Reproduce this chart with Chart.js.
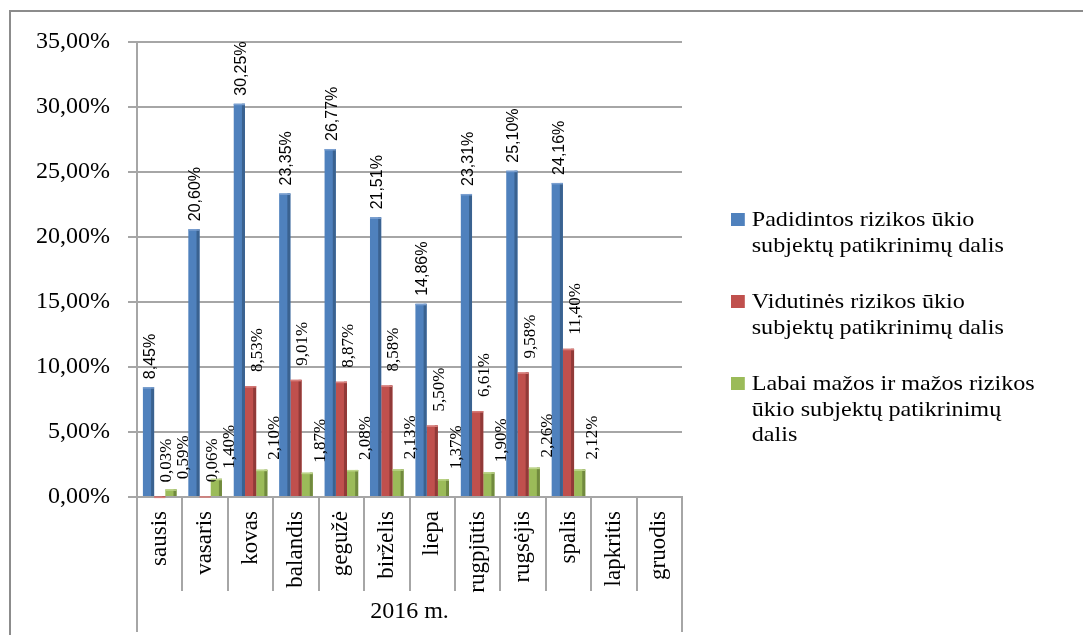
<!DOCTYPE html>
<html>
<head>
<meta charset="utf-8">
<script src="https://cdn.jsdelivr.net/npm/chart.js@4/dist/chart.umd.min.js"></script>
<style>
  body { margin: 0; background: #fff; }
  #wrap { position: relative; width: 1083px; height: 635px; overflow: hidden; }
  #frame { position: absolute; left: 9px; top: 10px; width: 1100px; height: 700px;
           border-top: 2px solid #8c8c8c; border-left: 2px solid #8c8c8c; }
  #myChart { position: absolute; left: 0; top: 0; }
  #legend { position: absolute; left: 731px; top: 207px; font-family: "Liberation Serif", "Times New Roman", serif;
            font-size: 21px; line-height: 25.5px; color: #000; white-space: nowrap;
            transform: scaleX(1.15); transform-origin: 0 0; }
  .item { position: relative; padding-left: 18px; margin-bottom: 31px; }
  .box { position: absolute; left: 0; top: 6px; width: 12px; height: 13px; }
</style>
</head>
<body>
<div id="wrap">
  <div id="frame"></div>
  <canvas id="myChart" width="1083" height="635"></canvas>
  <div id="legend"></div>
</div>
<script>
// months of 2016
const months = ['sausis', 'vasaris', 'kovas', 'balandis', 'gegužė', 'birželis',
    'liepa', 'rugpjūtis', 'rugsėjis', 'spalis', 'lapkritis', 'gruodis'];
const groupLabel = '2016 m.';

// series values in percent (no data for lapkritis, gruodis)
const highRisk = [8.45, 20.60, 30.25, 23.35, 26.77, 21.51, 14.86, 23.31, 25.10, 24.16, null, null];
const mediumRisk = [0.03, 0.06, 8.53, 9.01, 8.87, 8.58, 5.50, 6.61, 9.58, 11.40, null, null];
const lowRisk = [0.59, 1.40, 2.10, 1.87, 2.08, 2.13, 1.37, 1.90, 2.26, 2.12, null, null];

// legend text, split as in the original
const highRiskName = ['Padidintos rizikos ūkio', 'subjektų patikrinimų dalis'];
const mediumRiskName = ['Vidutinės rizikos ūkio', 'subjektų patikrinimų dalis'];
const lowRiskName = ['Labai mažos ir mažos rizikos', 'ūkio subjektų patikrinimų', 'dalis'];

const yTicks = [0, 5, 10, 15, 20, 25, 30, 35];

const fmt = v => v.toFixed(2).replace('.', ',') + '%';

// darker side + data labels, looks like the old excel 3d bars
const barExtras = {
    id: 'barExtras',
    afterDatasetsDraw(chart) {
        const ctx = chart.ctx;
        chart.data.datasets.forEach((ds, i) => {
            const meta = chart.getDatasetMeta(i);
            meta.data.forEach((bar, j) => {
                const v = ds.data[j];
                if (v === null || v === undefined) return;
                const w = bar.width;
                const left = bar.x - w / 2;
                ctx.save();
                ctx.fillStyle = ds.sideColor;
                ctx.fillRect(left + w - 3, bar.y, 3, bar.base - bar.y);
                ctx.fillStyle = ds.topColor;
                ctx.fillRect(left, bar.y, w, 1.5);
                ctx.restore();

                // rotated value label
                ctx.save();
                ctx.translate(bar.x + ds.lblDx, bar.y - ds.lblGap);
                ctx.rotate(-Math.PI / 2);
                ctx.font = ds.lblFont;
                ctx.fillStyle = '#000';
                ctx.textAlign = 'left';
                ctx.textBaseline = 'middle';
                ctx.fillText(fmt(v), 0, 0);
                ctx.restore();
            });
        });
    }
};

// category dividers under the axis
const dividers = {
    id: 'dividers',
    afterDraw(chart) {
        const ctx = chart.ctx;
        const x = chart.scales.x;
        const area = chart.chartArea;
        const step = (area.right - area.left) / months.length;
        ctx.save();
        ctx.strokeStyle = '#a6a6a6';
        ctx.lineWidth = 2;
        for (let i = 0; i <= months.length; i++) {
            const px = Math.round(x.getPixelForValue(i) - step / 2);
            const bottom = (i === 0 || i === months.length) ? 632 : 591;
            ctx.beginPath();
            ctx.moveTo(px, area.bottom);
            ctx.lineTo(px, bottom);
            ctx.stroke();
        }
        ctx.restore();
    }
};

function buildLegend(chart) {
    const el = document.getElementById('legend');
    const names = [highRiskName, mediumRiskName, lowRiskName];
    el.innerHTML = '';
    chart.data.datasets.forEach((ds, i) => {
        const item = document.createElement('div');
        item.className = 'item';
        item.innerHTML = '<span class="box" style="background:' + ds.backgroundColor + '"></span>' +
            names[i].join('<br>');
        el.appendChild(item);
    });
}

function loadChart() {
    const ctx = document.getElementById('myChart');
    const chart = new Chart(ctx, {
        type: 'bar',
        data: {
            labels: months,
            datasets: [
                { label: highRiskName.join(' '), data: highRisk, backgroundColor: '#4f81bd',
                  sideColor: '#3a6290', topColor: '#7a9fd0',
                  lblDx: 2, lblGap: 8, lblFont: '16px "Liberation Sans", Arial, sans-serif' },
                { label: mediumRiskName.join(' '), data: mediumRisk, backgroundColor: '#c0504d',
                  sideColor: '#913a38', topColor: '#d77d7a',
                  lblDx: 7, lblGap: 14, lblFont: '17px "Liberation Serif", "Times New Roman", serif' },
                { label: lowRiskName.join(' '), data: lowRisk, backgroundColor: '#9bbb59',
                  sideColor: '#718a3e', topColor: '#bcd488',
                  lblDx: 13, lblGap: 10, lblFont: '17px "Liberation Serif", "Times New Roman", serif' }
            ]
        },
        options: {
            responsive: false,
            animation: false,
            layout: { padding: { top: 42, right: 401, left: 0, bottom: 0 } },
            plugins: {
                legend: { display: false },
                tooltip: { enabled: false }
            },
            datasets: {
                bar: { categoryPercentage: 0.74, barPercentage: 1.0 }
            },
            scales: {
                x: {
                    grid: { display: false, drawTicks: false },
                    border: { color: '#a6a6a6', width: 2 },
                    ticks: {
                        minRotation: 90, maxRotation: 90, padding: 14, color: '#000',
                        font: { family: '"Liberation Serif", "Times New Roman", serif', size: 23 }
                    },
                    title: {
                        display: true, text: groupLabel, color: '#000',
                        font: { family: '"Liberation Serif", "Times New Roman", serif', size: 24 },
                        padding: { top: 0, bottom: 9 }
                    },
                    afterFit(scale) { scale.height = 138; }
                },
                y: {
                    min: 0, max: 35,
                    afterBuildTicks(scale) { scale.ticks = yTicks.map(v => ({ value: v })); },
                    grid: { color: '#a6a6a6', lineWidth: 2, tickLength: 9 },
                    border: { color: '#a6a6a6', width: 2 },
                    ticks: {
                        padding: 18, color: '#000',
                        font: { family: '"Liberation Serif", "Times New Roman", serif', size: 24 },
                        callback: v => fmt(v)
                    },
                    afterFit(scale) { scale.width = 137; }
                }
            }
        },
        plugins: [barExtras, dividers]
    });
    buildLegend(chart);
}

window.addEventListener('DOMContentLoaded', loadChart);
</script>
</body>
</html>
